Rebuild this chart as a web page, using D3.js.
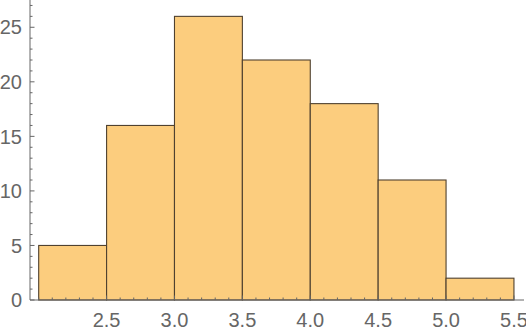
<!DOCTYPE html>
<html>
<head>
<meta charset="utf-8">
<script src="https://cdn.jsdelivr.net/npm/d3@7"></script>
<style>
  body { margin: 0; background: #fff; }
  text { font-family: "Liberation Sans", Arial, sans-serif; }
</style>
</head>
<body>
<div id="chart"></div>
<script>
// bin edges and counts
var binStarts = [2.0, 2.5, 3.0, 3.5, 4.0, 4.5, 5.0];
var binWidth = 0.5;
var counts = [5, 16, 26, 22, 18, 11, 2];
var xTicks = [2.5, 3.0, 3.5, 4.0, 4.5, 5.0, 5.5];
var yTicks = [0, 5, 10, 15, 20, 25];

var W = 526, H = 332;
var axisColor = "#666";

var svg = d3.select("#chart")
    .append("svg")
    .attr("width", W)
    .attr("height", H);

var x = d3.scaleLinear()
    .domain([1.936, 5.574])
    .range([30, 524]);

var y = d3.scaleLinear()
    .domain([0, 27.5])
    .range([300, 0]);

// bars
svg.append("g")
    .selectAll("rect")
    .data(binStarts)
    .enter()
    .append("rect")
        .attr("x", d => x(d))
        .attr("y", (d, i) => y(counts[i]))
        .attr("width", d => x(d + binWidth) - x(d))
        .attr("height", (d, i) => y(0) - y(counts[i]))
        .style("fill", "#fccd7e")
        .style("stroke", "#4f4130")
        .style("stroke-width", 1.1);

// x axis (ticks point up, into the plot)
var xMinor = d3.range(20, 56).map(d => d / 10).filter(d => xTicks.indexOf(d) < 0);
var gx = svg.append("g").attr("transform", "translate(0,300)");
gx.append("line")
    .attr("x1", 30).attr("x2", 524)
    .style("stroke", axisColor);
gx.selectAll(".minor")
    .data(xMinor)
    .enter()
    .append("line")
        .attr("x1", d => x(d)).attr("x2", d => x(d))
        .attr("y1", 0).attr("y2", -2.5)
        .style("stroke", axisColor);
gx.selectAll(".major")
    .data(xTicks)
    .enter()
    .append("line")
        .attr("x1", d => x(d)).attr("x2", d => x(d))
        .attr("y1", 0).attr("y2", -4.5)
        .style("stroke", axisColor);
gx.selectAll("text")
    .data(xTicks)
    .enter()
    .append("text")
        .attr("x", d => x(d))
        .attr("y", 26.5)
        .style("text-anchor", "middle")
        .style("font-size", "20px")
        .style("fill", axisColor)
        .text(d => d3.format(".1f")(d));

// y axis (ticks point right)
var yMinor = d3.range(0, 28).filter(d => d % 5 != 0);
var gy = svg.append("g").attr("transform", "translate(30,0)");
gy.append("line")
    .attr("y1", 0).attr("y2", 300)
    .style("stroke", axisColor);
gy.selectAll(".minor")
    .data(yMinor)
    .enter()
    .append("line")
        .attr("y1", d => y(d)).attr("y2", d => y(d))
        .attr("x1", 0).attr("x2", 2.5)
        .style("stroke", axisColor);
gy.selectAll(".major")
    .data(yTicks)
    .enter()
    .append("line")
        .attr("y1", d => y(d)).attr("y2", d => y(d))
        .attr("x1", 0).attr("x2", 4.5)
        .style("stroke", axisColor);
gy.selectAll("text")
    .data(yTicks)
    .enter()
    .append("text")
        .attr("x", -8)
        .attr("y", d => y(d))
        .attr("dy", "0.36em")
        .style("text-anchor", "end")
        .style("font-size", "20px")
        .style("fill", axisColor)
        .text(d => d);
</script>
</body>
</html>
